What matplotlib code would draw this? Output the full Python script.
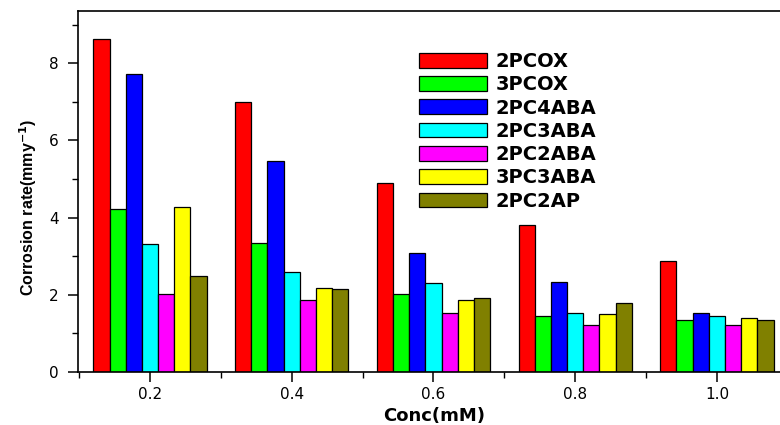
import numpy as np
import matplotlib
matplotlib.use("Agg")
import matplotlib.pyplot as plt
from matplotlib.ticker import MultipleLocator

conc = [0.2, 0.4, 0.6, 0.8, 1.0]
names = ["2PCOX", "3PCOX", "2PC4ABA", "2PC3ABA", "2PC2ABA", "3PC3ABA", "2PC2AP"]
colors = ["#FF0000", "#00FF00", "#0000FF", "#00FFFF", "#FF00FF", "#FFFF00", "#808000"]

# corrosion rate (mm/y) for each inhibitor at each concentration
r_2pcox = [8.64, 6.99, 4.91, 3.81, 2.88]
r_3pcox = [4.22, 3.35, 2.01, 1.46, 1.36]
r_2pc4aba = [7.71, 5.47, 3.09, 2.32, 1.54]
r_2pc3aba = [3.31, 2.58, 2.31, 1.54, 1.44]
r_2pc2aba = [2.01, 1.87, 1.54, 1.23, 1.22]
r_3pc3aba = [4.28, 2.17, 1.86, 1.51, 1.39]
r_2pc2ap = [2.50, 2.14, 1.93, 1.78, 1.36]
series = [r_2pcox, r_3pcox, r_2pc4aba, r_2pc3aba, r_2pc2aba, r_3pc3aba, r_2pc2ap]

fig = plt.figure(figsize=(7.8, 4.25), dpi=100)
ax = fig.add_axes([0.1, 0.1247, 0.9, 0.849])

w = 0.2 * 0.8 / 7
x = np.array(conc)
for i, (vals, c, n) in enumerate(zip(series, colors, names)):
    ax.bar(x + (i - 3) * w, vals, width=w, color=c, edgecolor="black",
           linewidth=0.9, label=n)

ax.set_xlim(0.0984, 1.089)
ax.set_ylim(0, 9.35)
ax.set_xticks(conc)
ax.set_xticklabels(["0.2", "0.4", "0.6", "0.8", "1.0"])
ax.xaxis.set_minor_locator(MultipleLocator(0.1))
ax.yaxis.set_major_locator(MultipleLocator(2))
ax.yaxis.set_minor_locator(MultipleLocator(1))
ax.tick_params(axis="both", which="major", direction="out", length=7, width=1.1,
               labelsize=11)
ax.tick_params(axis="both", which="minor", direction="out", length=4, width=1.0)
ax.tick_params(axis="y", which="major", pad=7)
ax.tick_params(axis="x", which="major", pad=4)
ax.spines["right"].set_visible(False)
for s in ["left", "bottom", "top"]:
    ax.spines[s].set_linewidth(1.2)

ax.set_xlabel("Conc(mM)", fontsize=13, fontweight="bold")
ax.xaxis.set_label_coords(0.507, -0.098)
ax.set_ylabel("Corrosion rate(mmy$^{\\mathbf{-1}}$)", fontsize=11.5,
              fontweight="bold", family="Liberation Sans")
ax.yaxis.set_label_coords(-0.055, 0.455)

ax.legend(loc="upper left", bbox_to_anchor=(419 / 780, 1 - 52 / 425),
          bbox_transform=fig.transFigure, frameon=False, borderpad=0,
          borderaxespad=0, prop={"weight": "bold", "size": 14},
          handlelength=3.5, handleheight=0.78, handletextpad=0.45,
          labelspacing=0.22)

fig.savefig("out.png", dpi=100)
